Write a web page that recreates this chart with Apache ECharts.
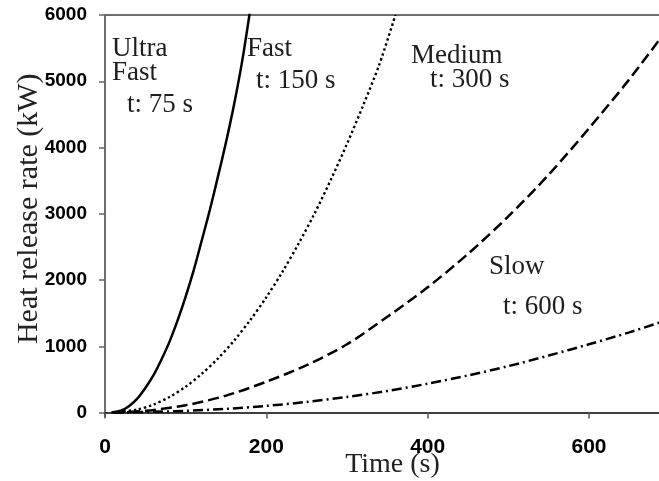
<!DOCTYPE html>
<html>
<head>
<meta charset="utf-8">
<title>Heat release rate</title>
<script src="https://cdn.jsdelivr.net/npm/echarts@6/dist/echarts.min.js"></script>
<style>
  html, body { margin: 0; padding: 0; background: #fff; }
  #chart { width: 659px; height: 481px; }
</style>
</head>
<body>
<div id="chart"></div>
<script>
// tick labels
const xTicks = [0, 200, 400, 600];
const yTicks = [0, 1000, 2000, 3000, 4000, 5000, 6000];

// values (time in s, HRR in kW)
const timeUltra = [8, 20, 30, 40, 50, 60, 70, 80, 90, 100, 110, 120, 130, 140, 150, 160, 170, 180];
const hrrUltra = [0, 30, 100, 210, 370, 560, 800, 1070, 1390, 1750, 2150, 2600, 3060, 3560, 4080, 4650, 5300, 6080];

const timeFast = [10, 40, 60, 80, 100, 120, 140, 160, 180, 200, 220, 240, 260, 280, 300, 320, 340, 360];
const hrrFast = [0, 45, 120, 235, 390, 585, 815, 1085, 1395, 1740, 2125, 2550, 3010, 3515, 4055, 4635, 5250, 6000];

const timeMedium = [10, 50, 100, 150, 200, 250, 300, 350, 400, 450, 500, 550, 600, 650, 688];
const hrrMedium = [0, 25, 110, 255, 465, 715, 1030, 1445, 1890, 2395, 2960, 3590, 4290, 5030, 5640];

const timeSlow = [10, 50, 100, 150, 200, 250, 300, 350, 400, 450, 500, 550, 600, 650, 688];
const hrrSlow = [0, 8, 25, 55, 100, 160, 235, 325, 435, 560, 700, 860, 1030, 1210, 1360];

const pairs = (xs, ys) => xs.map((x, i) => [x, ys[i]]);

const serif = "'Liberation Serif', 'Times New Roman', serif";
const sans = "'Liberation Sans', Arial, sans-serif";

const chart = echarts.init(document.getElementById('chart'), null, { renderer: 'canvas' });

const curve = (name, data, type, width) => ({
  name: name,
  type: 'line',
  data: data,
  smooth: 0.3,
  showSymbol: false,
  symbol: 'none',
  lineStyle: { color: '#000', width: width, type: type, cap: 'butt' }
});

const note = (text, x, baseline) => ({
  type: 'text',
  x: x,
  y: baseline - 8,
  silent: true,
  style: { text: text, font: '27px ' + serif, fill: '#1e1e1e', verticalAlign: 'middle' }
});

chart.setOption({
  animation: false,
  backgroundColor: '#fff',
  grid: { left: 105, top: 15, width: 555, height: 401.5, containLabel: false, outerBoundsMode: 'none' },
  xAxis: [{
    type: 'value',
    min: 0,
    max: 688,
    interval: 200,
    name: 'Time (s)',
    nameLocation: 'middle',
    nameGap: 34,
    nameMoveOverlap: false,
    nameTextStyle: { fontFamily: serif, fontSize: 28, color: '#222', padding: [0, 0, 0, 20] },
    axisLine: { lineStyle: { color: '#000', width: 1.5 } },
    axisTick: { length: 6, customValues: xTicks, lineStyle: { color: '#555', width: 1.5 } },
    axisLabel: {
      customValues: xTicks, margin: 20, fontFamily: sans, fontWeight: 'bold', fontSize: 21, color: '#000',
      formatter: (v) => String(v)
    },
    splitLine: { show: false }
  }, {
    // just the top frame line
    type: 'value',
    position: 'top',
    min: 0,
    max: 688,
    axisLine: { show: true, lineStyle: { color: '#6e6e6e', width: 2 } },
    axisTick: { show: false },
    axisLabel: { show: false },
    splitLine: { show: false }
  }],
  yAxis: {
    type: 'value',
    min: -60,
    max: 6000,
    name: 'Heat release rate (kW)',
    nameLocation: 'middle',
    nameGap: 61,
    nameMoveOverlap: false,
    nameTextStyle: { fontFamily: serif, fontSize: 30, color: '#222', padding: [0, 0, 0, 14] },
    axisLine: { show: true, lineStyle: { color: '#6e6e6e', width: 2 } },
    axisTick: { show: true, length: 6, customValues: yTicks, lineStyle: { color: '#666', width: 1.5 } },
    axisLabel: {
      customValues: yTicks, margin: 18, fontFamily: sans, fontWeight: 'bold', fontSize: 19, color: '#000',
      formatter: (v) => String(v)
    },
    splitLine: { show: false }
  },
  series: [
    curve('Ultra Fast', pairs(timeUltra, hrrUltra), 'solid', 2.5),
    curve('Fast', pairs(timeFast, hrrFast), [2.4, 2.8], 2.4),
    curve('Medium', pairs(timeMedium, hrrMedium), [11, 5], 2.5),
    curve('Slow', pairs(timeSlow, hrrSlow), [10, 4, 2, 4], 2.5)
  ],
  graphic: [
    note('Ultra', 112, 57),
    note('Fast', 112, 81),
    note('t: 75 s', 127, 113),
    note('Fast', 247, 57),
    note('t: 150 s', 256, 89),
    note('Medium', 411, 64),
    note('t: 300 s', 430, 88),
    note('Slow', 489, 275),
    note('t: 600 s', 503, 315)
  ]
});
</script>
</body>
</html>
